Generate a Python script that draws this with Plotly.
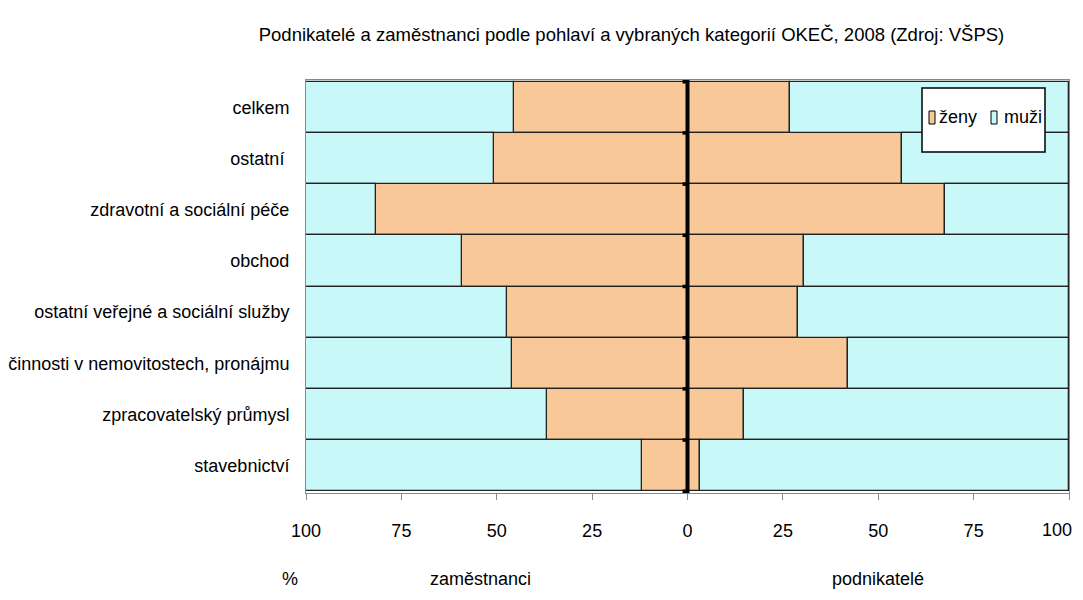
import plotly.graph_objects as go

# categories top to bottom
kategorie = ["celkem", "ostatní ", "zdravotní a sociální péče", "obchod",
             "ostatní veřejné a sociální služby", "činnosti v nemovitostech, pronájmu",
             "zpracovatelský průmysl", "stavebnictví"]

# zaměstnanci (% podle pohlaví)
zam_zeny = [45.6, 50.6, 81.7, 59.2, 47.2, 46.0, 36.8, 11.9]
zam_muzi = [54.4, 49.4, 18.3, 40.8, 52.8, 54.0, 63.2, 88.1]

# podnikatelé (% podle pohlaví)
pod_zeny = [26.8, 56.3, 67.5, 30.6, 29.0, 42.0, 14.7, 3.3]
pod_muzi = [73.2, 43.7, 32.5, 69.4, 71.0, 58.0, 85.3, 96.7]

tick_vals = [-100, -75, -50, -25, 0, 25, 50, 75, 100]
tick_text = ["100", "75", "50", "25", "0", "25", "50", "75", ""]
posledni_tick = "100"

ORANZ = "#F8C898"
AZUR = "#C8F8F8"
FONT = "Liberation Sans, Arial, sans-serif"
FS = 18
outline = dict(color="#222222", width=1.3)

# plot area in page pixels (for placing legend box and labels)
PX0, PX1, PY0, PY1 = 306, 1069, 80, 493
def px(x):
    return (x - PX0) / (PX1 - PX0)
def py(y):
    return (PY1 - y) / (PY1 - PY0)

fig = go.Figure()
fig.add_trace(go.Bar(y=kategorie, x=[-v for v in zam_zeny], orientation="h",
                     marker=dict(color=ORANZ, line=outline), name="ženy"))
fig.add_trace(go.Bar(y=kategorie, x=[-v for v in zam_muzi], orientation="h",
                     marker=dict(color=AZUR, line=outline), name="muži"))
fig.add_trace(go.Bar(y=kategorie, x=pod_zeny, orientation="h",
                     marker=dict(color=ORANZ, line=outline), name="ženy"))
fig.add_trace(go.Bar(y=kategorie, x=pod_muzi, orientation="h",
                     marker=dict(color=AZUR, line=outline), name="muži"))

# zero axis with small ticks between categories
fig.add_shape(type="line", xref="x", yref="paper", x0=0, x1=0, y0=0, y1=1,
              line=dict(color="black", width=4))
for k in range(len(kategorie) + 1):
    fig.add_shape(type="line", xref="x", yref="y", x0=-1.3, x1=0,
                  y0=k - 0.5, y1=k - 0.5, line=dict(color="black", width=3.5))

# legend box
fig.add_shape(type="rect", xref="paper", yref="paper",
              x0=px(922), x1=px(1045), y0=py(152), y1=py(88),
              fillcolor="white", line=dict(color="black", width=1.5))
for barva, x0, txt, tx in [(ORANZ, 929, "ženy", 937), (AZUR, 991, "muži", 1002)]:
    fig.add_shape(type="rect", xref="paper", yref="paper",
                  x0=px(x0), x1=px(x0 + 6), y0=py(124), y1=py(111),
                  fillcolor=barva, line=dict(color="black", width=1))
    fig.add_annotation(text=txt, xref="paper", yref="paper", x=px(tx), y=py(117),
                       xanchor="left", yanchor="middle", showarrow=False,
                       font=dict(size=FS, color="black"))

# last tick label kept inside the page
fig.add_annotation(text=posledni_tick, xref="paper", yref="paper", x=px(1074),
                   y=py(530), xanchor="right", yanchor="middle", showarrow=False,
                   font=dict(size=FS, color="black"))

for txt, xc in [("%", 290), ("zaměstnanci", 480), ("podnikatelé", 878)]:
    fig.add_annotation(text=txt, xref="paper", yref="paper", x=px(xc), y=py(579),
                       xanchor="center", yanchor="middle", showarrow=False,
                       font=dict(size=FS, color="black"))

fig.update_layout(
    width=1075, height=584,
    barmode="relative", bargap=0,
    plot_bgcolor="white", paper_bgcolor="white",
    font=dict(family=FONT, size=FS, color="black"),
    margin=dict(l=298, r=14, t=72, b=99, autoexpand=False),
    title=dict(text="Podnikatelé a zaměstnanci podle pohlaví a vybraných kategorií OKEČ, 2008 (Zdroj: VŠPS)",
               x=0.58, xanchor="center", y=0.954, yanchor="middle",
               font=dict(size=18.5)),
    xaxis=dict(range=[-100, 100], tickvals=tick_vals, ticktext=tick_text,
               showgrid=False, zeroline=False, showline=True, linecolor="#888888",
               mirror=True, ticks="outside", ticklen=6, tickcolor="#888888",
               ticklabelstandoff=15, ticklabeloverflow="allow", automargin=False,
               fixedrange=True),
    yaxis=dict(categoryorder="array", categoryarray=kategorie, autorange="reversed",
               showgrid=False, zeroline=False, showline=True, linecolor="#888888",
               mirror=True, ticks="", ticklabelstandoff=12, automargin=False),
    showlegend=False,
)

fig.write_html("out.html")
